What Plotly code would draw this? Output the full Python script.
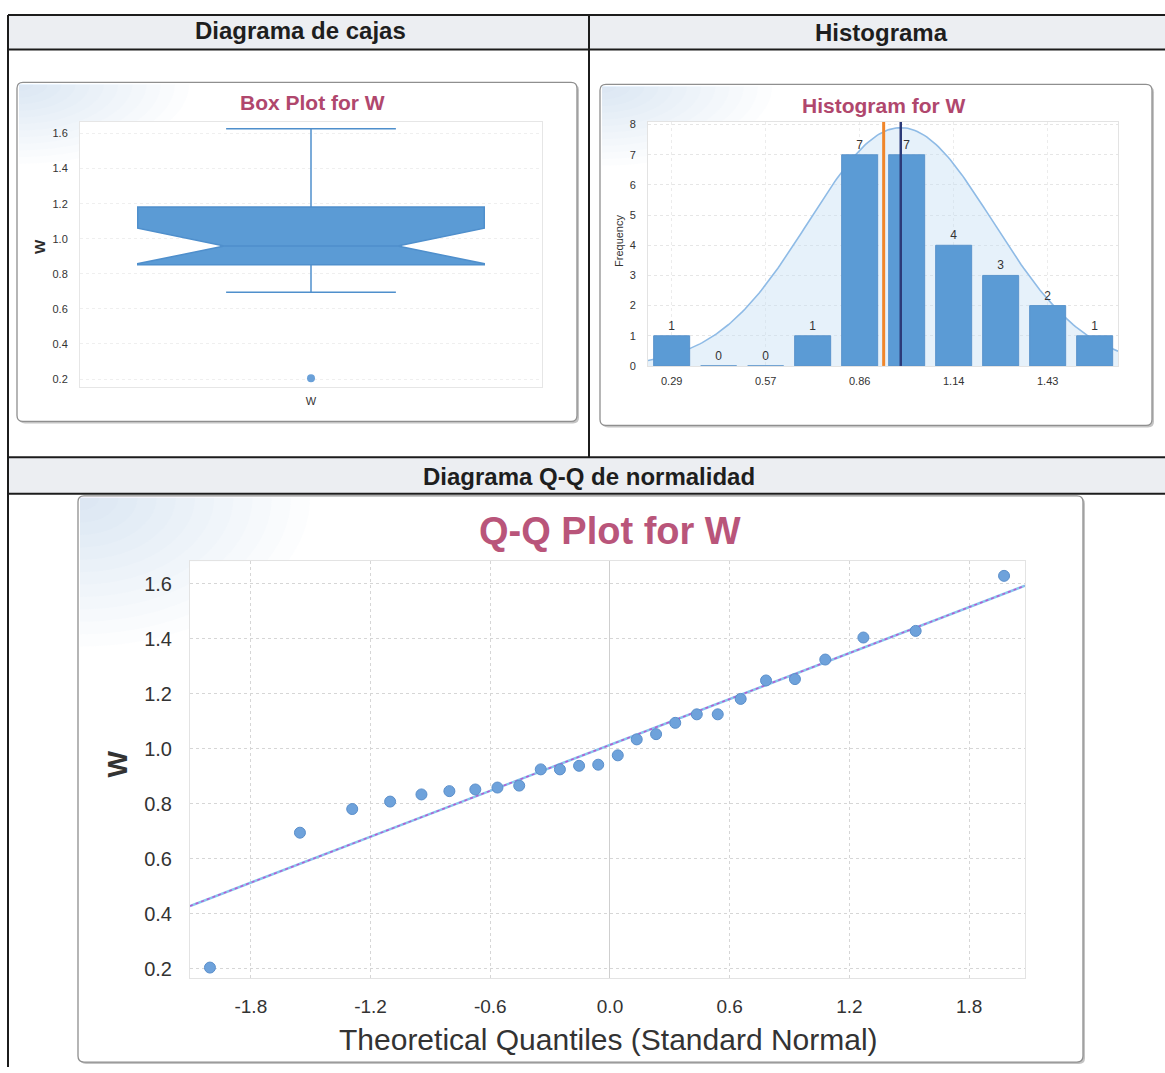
import numpy as np
import plotly.graph_objects as go

# ---------------- data ----------------
w_values = [0.205, 0.695, 0.781, 0.808, 0.834, 0.846, 0.852, 0.859, 0.866, 0.925,
            0.925, 0.938, 0.942, 0.976, 1.034, 1.053, 1.094, 1.125, 1.125, 1.181,
            1.248, 1.253, 1.324, 1.404, 1.428, 1.628]
theo_quantiles = [-2.005, -1.554, -1.292, -1.102, -0.945, -0.805, -0.675, -0.564, -0.455,
                  -0.347, -0.251, -0.155, -0.059, 0.039, 0.134, 0.231, 0.327, 0.435,
                  0.540, 0.655, 0.782, 0.927, 1.079, 1.270, 1.532, 1.975]
hist_centers = [0.287, 0.430, 0.573, 0.716, 0.859, 1.002, 1.145, 1.288, 1.431, 1.574]
hist_counts = [1, 0, 0, 1, 7, 7, 4, 3, 2, 1]
hist_tick_labels = ["0.29", "0.57", "0.86", "1.14", "1.43"]
hist_median_line = 0.932
hist_mean_line = 0.984
curve_sd = 0.28
curve_peak = 7.9
qq_intercept = 1.014
qq_slope = 0.278
qq_xticks = [-1.8, -1.2, -0.6, 0.0, 0.6, 1.2, 1.8]
qq_xtick_labels = ["-1.8", "-1.2", "-0.6", "0.0", "0.6", "1.2", "1.8"]
y_ticks = [0.2, 0.4, 0.6, 0.8, 1.0, 1.2, 1.4, 1.6]

W, H = 1165, 1073
FONT = "Arial, Liberation Sans, sans-serif"
TITLE_COL = "#b0476d"
BLUE = "#5b9bd5"


def X(px):
    return px / W


def Y(py):
    return 1 - py / H


fig = go.Figure()

# ---------------- box plot ----------------
fig.add_trace(go.Box(
    y=w_values, name="W", notched=True, notchwidth=0.25, whiskerwidth=0.49, width=0.75,
    boxpoints="outliers", fillcolor=BLUE, line=dict(color="#4f8fcc", width=1.5),
    marker=dict(color="#6aa0d8", size=8), xaxis="x", yaxis="y", showlegend=False))

# ---------------- histogram ----------------
HX0, HX1 = 0.215, 1.645
xc = np.linspace(HX0, HX1, 200)
yc = curve_peak * np.exp(-0.5 * ((xc - hist_mean_line) / curve_sd) ** 2)
fig.add_trace(go.Scatter(x=xc, y=yc, mode="lines", line=dict(color="#8fbbe6", width=1.6),
                         fill="tozeroy", fillcolor="rgba(200,224,245,0.45)",
                         xaxis="x2", yaxis="y2", showlegend=False, hoverinfo="skip"))
# bars and reference lines on an overlaid subplot so they sit above the curve
fig.add_trace(go.Bar(x=hist_centers, y=hist_counts, width=0.1095,
                     marker=dict(color=BLUE, line=dict(color="#5a94cc", width=1)),
                     text=[str(c) for c in hist_counts], textposition="outside",
                     textfont=dict(size=12, color="#333333", family=FONT),
                     cliponaxis=False, xaxis="x4", yaxis="y4", showlegend=False))
fig.add_trace(go.Scatter(x=[hist_median_line, hist_median_line], y=[0, 8.1], mode="lines",
                         line=dict(color="#f0862a", width=3), xaxis="x4", yaxis="y4",
                         showlegend=False))
fig.add_trace(go.Scatter(x=[hist_mean_line, hist_mean_line], y=[0, 8.1], mode="lines",
                         line=dict(color="#2c3a78", width=2.5), xaxis="x4", yaxis="y4",
                         showlegend=False))

# ---------------- Q-Q plot ----------------
qx_range = [-2.105, 2.08]
line_x = np.array(qx_range)
line_y = qq_intercept + qq_slope * line_x
fig.add_trace(go.Scatter(x=line_x, y=line_y, mode="lines",
                         line=dict(color="#86c6ee", width=2.5), xaxis="x3", yaxis="y3",
                         showlegend=False))
fig.add_trace(go.Scatter(x=line_x, y=line_y, mode="lines",
                         line=dict(color="#b858d0", width=1.5, dash="dot"), xaxis="x3",
                         yaxis="y3", showlegend=False))
fig.add_trace(go.Scatter(x=theo_quantiles, y=w_values, mode="markers",
                         marker=dict(color="#6ea2db", size=11,
                                     line=dict(color="#5b8fcb", width=1)),
                         xaxis="x3", yaxis="y3", showlegend=False))

# ---------------- shapes: table + panels ----------------
shapes = []
LINE = "#1c1c1c"


def rect(x0, y0, x1, y1, fill, line=None, lw=0):
    return dict(type="rect", xref="paper", yref="paper", x0=X(x0), x1=X(x1),
                y0=Y(y1), y1=Y(y0), fillcolor=fill,
                line=dict(color=line or fill, width=lw), layer="below")


def rrect(x0, y0, x1, y1, r, fill, line, lw):
    def p(a, b):
        return f"{X(a):.5f},{Y(b):.5f}"
    path = (f"M {p(x0 + r, y0)} L {p(x1 - r, y0)} Q {p(x1, y0)} {p(x1, y0 + r)} "
            f"L {p(x1, y1 - r)} Q {p(x1, y1)} {p(x1 - r, y1)} L {p(x0 + r, y1)} "
            f"Q {p(x0, y1)} {p(x0, y1 - r)} L {p(x0, y0 + r)} Q {p(x0, y0)} {p(x0 + r, y0)} Z")
    return dict(type="path", path=path, xref="paper", yref="paper", fillcolor=fill,
                line=dict(color=line, width=lw), layer="below")


def glow(x0, y0, rx, ry, alpha):
    def p(a, b):
        return f"{X(a):.5f},{Y(b):.5f}"
    path = (f"M {p(x0, y0)} L {p(x0 + rx, y0)} C {p(x0 + rx, y0 + 0.55 * ry)} "
            f"{p(x0 + 0.55 * rx, y0 + ry)} {p(x0, y0 + ry)} Z")
    return dict(type="path", path=path, xref="paper", yref="paper",
                fillcolor=f"rgba(165,198,234,{alpha})", line=dict(width=0), layer="below")


def hline(y, x0, x1, w=2):
    return dict(type="line", xref="paper", yref="paper", x0=X(x0), x1=X(x1), y0=Y(y), y1=Y(y),
                line=dict(color=LINE, width=w), layer="above")


def vline(x, y0, y1, w=2):
    return dict(type="line", xref="paper", yref="paper", x0=X(x), x1=X(x), y0=Y(y0), y1=Y(y1),
                line=dict(color=LINE, width=w), layer="above")


# header backgrounds
shapes.append(rect(8, 12, 1165, 47, "#eceef2"))
shapes.append(rect(8, 458, 1165, 495, "#eceef2"))

panels = [(17, 80, 577, 422), (600, 82, 1152, 426), (78, 497, 1083, 1068)]
plot_areas = [(80, 120, 542, 387), (648, 119.6, 1118, 366), (190, 563, 1025, 983)]
for (x0, y0, x1, y1) in panels:
    shapes.append(rrect(x0 + 2, y0 + 2, x1 + 2, y1 + 2, 6, "#c4c4c4", "#c4c4c4", 0))
    shapes.append(rrect(x0, y0, x1, y1, 6, "white", "#8f8f8f", 1.3))
    big = (x1 - x0) > 700
    n_layers = 12
    for k in range(n_layers):
        f = 1 - k / n_layers
        rx = (230 if big else 170) * f
        ry = (150 if big else 80) * f
        shapes.append(glow(x0 + 2, y0 + 2, rx, ry, 0.035))
for (x0, y0, x1, y1) in plot_areas:
    shapes.append(rect(x0, y0, x1, y1, "white"))

shapes += [hline(12, 8, 1165), hline(47, 8, 1165), hline(458, 8, 1165), hline(495, 8, 1165),
           vline(8, 12, 1073), vline(589, 12, 458)]

# ---------------- annotations ----------------
ann = []


def txt(s, px, py, size, color="#1e1e1e", bold=False, angle=0):
    ann.append(dict(text=f"<b>{s}</b>" if bold else s, x=X(px), y=Y(py), xref="paper",
                    yref="paper", showarrow=False, xanchor="center", yanchor="middle",
                    textangle=angle, font=dict(family=FONT, size=size, color=color)))


txt("Diagrama de cajas", 300, 28, 24, bold=True)
txt("Histograma", 881, 30, 24, bold=True)
txt("Diagrama Q-Q de normalidad", 589, 478, 24, bold=True)
txt("Box Plot for W", 312, 100, 21, TITLE_COL, bold=True)
txt("Histogram for W", 884, 103, 21, TITLE_COL, bold=True)
txt("Q-Q Plot for W", 610, 532, 38, "#b9557a", bold=True)
txt("W", 40, 246, 15, "#2a2a2a", bold=True, angle=-90)
txt("Frequency", 619, 240, 11, "#333333", angle=-90)
txt("W", 118, 768, 28, "#333333", bold=True, angle=-90)
txt("Theoretical Quantiles (Standard Normal)", 608, 1045, 30, "#333333")

# ---------------- layout ----------------
tickfont_s = dict(family=FONT, size=11, color="#333333")
fig.update_layout(
    width=W, height=H, autosize=False, margin=dict(l=0, r=0, t=0, b=0),
    paper_bgcolor="white", plot_bgcolor="rgba(0,0,0,0)", showlegend=False,
    bargap=0.24, shapes=shapes, annotations=ann,
    font=dict(family=FONT),
    xaxis=dict(domain=[X(80), X(542)], range=[-0.5, 0.5], type="category",
               showgrid=False, showline=True, mirror=True, linecolor="#e6e6e6",
               tickfont=tickfont_s, ticks="outside", ticklen=4, tickcolor="rgba(0,0,0,0)",
               anchor="y"),
    yaxis=dict(domain=[Y(387), Y(120)], range=[0.156, 1.666], tickvals=y_ticks,
               tickformat=".1f", showgrid=True, gridcolor="#efefef", griddash="dot",
               zeroline=False, showline=True, mirror=True, linecolor="#e6e6e6",
               tickfont=tickfont_s, ticks="outside", ticklen=9, tickcolor="rgba(0,0,0,0)",
               anchor="x"),
    xaxis2=dict(domain=[X(648), X(1118)], range=[HX0, HX1], tickvals=hist_centers[::2],
                ticktext=hist_tick_labels, showgrid=True, gridcolor="#ececec", griddash="dot",
                zeroline=False, showline=True, mirror=True, linecolor="#e3e3e3",
                tickfont=tickfont_s, ticks="outside", ticklen=5, tickcolor="rgba(0,0,0,0)",
                anchor="y2"),
    yaxis2=dict(domain=[Y(366), Y(119.6)], range=[0, 8.1], dtick=1, showgrid=True,
                gridcolor="#e6e6e6", griddash="dot", zeroline=False, showline=True,
                mirror=True, linecolor="#e3e3e3", tickfont=tickfont_s, ticks="outside",
                ticklen=9, tickcolor="rgba(0,0,0,0)", anchor="x2"),
    xaxis4=dict(overlaying="x2", range=[HX0, HX1], visible=False, anchor="y4"),
    yaxis4=dict(overlaying="y2", range=[0, 8.1], visible=False, anchor="x4"),
    xaxis3=dict(domain=[X(190), X(1025)], range=qx_range, tickvals=qq_xticks,
                ticktext=qq_xtick_labels, showgrid=True, gridcolor="#d6d6d6", griddash="dot",
                zeroline=True, zerolinecolor="#cfcfcf", zerolinewidth=1,
                showline=True, mirror=True, linecolor="#e3e3e3",
                tickfont=dict(family=FONT, size=19, color="#333333"), ticks="outside",
                ticklen=11, tickcolor="rgba(0,0,0,0)", anchor="y3"),
    yaxis3=dict(domain=[Y(983), Y(563)], range=[0.168, 1.681], tickvals=y_ticks,
                tickformat=".1f", showgrid=True, gridcolor="#d6d6d6", griddash="dot",
                zeroline=False, showline=True, mirror=True, linecolor="#e3e3e3",
                tickfont=dict(family=FONT, size=20, color="#333333"), ticks="outside",
                ticklen=13, tickcolor="rgba(0,0,0,0)", anchor="x3"),
)

fig.write_html("out.html", config={"displayModeBar": False},
               post_script="document.body.style.margin='0';document.body.style.overflow='hidden';")
